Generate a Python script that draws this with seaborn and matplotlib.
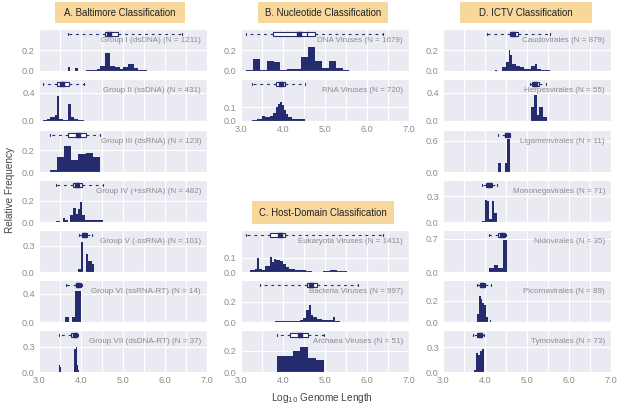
import matplotlib
matplotlib.use('Agg')
import matplotlib.pyplot as plt
import matplotlib.patches as mpatches
import seaborn as sns

#########
# Histogram data (bin edges, relative frequency) and box stats
# box = [whisker low, q1, median, q3, whisker high, mean]
#########

# A. Baltimore
dsdna_edges = [3.68, 3.74, 3.86, 3.93, 4.12, 4.37, 4.45, 4.56, 4.69, 4.81, 4.93, 5.01, 5.13, 5.25, 5.36, 5.56, 5.80, 6.10, 6.40]
dsdna_freq = [0.04, 0.0, 0.03, 0.0, 0.013, 0.02, 0.05, 0.17, 0.05, 0.04, 0.02, 0.04, 0.065, 0.03, 0.01, 0.004, 0.002, 0.002]
dsdna_box = [3.68, 4.56, 4.67, 4.89, 6.40, 4.67]

ssdna_edges = [3.10, 3.18, 3.25, 3.37, 3.42, 3.48, 3.58, 3.68, 3.76, 3.83, 3.94, 4.06]
ssdna_freq = [0.01, 0.033, 0.057, 0.08, 0.35, 0.03, 0.02, 0.24, 0.06, 0.035, 0.015]
ssdna_box = [3.10, 3.44, 3.55, 3.72, 4.06, 3.55]

dsrna_edges = [3.26, 3.44, 3.60, 3.75, 3.94, 4.12, 4.28, 4.45]
dsrna_freq = [0.015, 0.14, 0.24, 0.115, 0.17, 0.175, 0.14]
dsrna_box = [3.25, 3.68, 3.92, 4.13, 4.45, 3.92]

pssrna_edges = [3.40, 3.50, 3.56, 3.62, 3.68, 3.74, 3.80, 3.88, 3.92, 3.98, 4.02, 4.10, 4.21, 4.37, 4.53]
pssrna_freq = [0.01, 0.0, 0.04, 0.015, 0.0, 0.065, 0.13, 0.08, 0.12, 0.195, 0.065, 0.02, 0.015, 0.018]
pssrna_box = [3.40, 3.82, 3.91, 4.02, 4.53, 3.91]

nssrna_edges = [3.94, 4.00, 4.05, 4.11, 4.17, 4.25, 4.32]
nssrna_freq = [0.03, 0.34, 0.0, 0.21, 0.13, 0.09]
nssrna_box = [3.95, 4.02, 4.08, 4.14, 4.27, 4.08]

ssrnart_edges = [3.63, 3.71, 3.79, 3.86, 4.01]
ssrnart_freq = [0.071, 0.0, 0.071, 0.43]
ssrnart_box = [3.64, 3.88, 3.94, 4.00, 4.02, 3.94]

dsdnart_edges = [3.47, 3.50, 3.53, 3.84, 3.87, 3.90, 3.93, 3.95]
dsdnart_freq = [0.081, 0.054, 0.0, 0.27, 0.30, 0.081, 0.027]
dsdnart_box = [3.47, 3.76, 3.85, 3.91, 3.94, 3.85]

# B. Nucleotide
dna_edges = [3.12, 3.28, 3.45, 3.61, 3.78, 3.94, 4.10, 4.27, 4.43, 4.60, 4.76, 4.92, 5.09, 5.25, 5.42, 5.58, 5.74, 5.91, 6.07, 6.23, 6.40]
dna_freq = [0.006, 0.11, 0.013, 0.10, 0.085, 0.006, 0.016, 0.02, 0.13, 0.225, 0.095, 0.026, 0.097, 0.029, 0.013, 0.003, 0.002, 0.002, 0.001, 0.002]
dna_box = [3.12, 3.75, 4.58, 4.76, 6.39, 4.37]

rna_edges = [3.25, 3.37, 3.49, 3.57, 3.69, 3.77, 3.83, 3.88, 3.93, 3.98, 4.02, 4.07, 4.13, 4.21, 4.33, 4.52]
rna_freq = [0.005, 0.012, 0.035, 0.03, 0.037, 0.06, 0.1, 0.125, 0.14, 0.118, 0.08, 0.055, 0.03, 0.015, 0.013]
rna_box = [3.25, 3.83, 3.95, 4.05, 4.52, 3.95]

# C. Host domain
euk_edges = [3.12, 3.21, 3.33, 3.37, 3.42, 3.49, 3.57, 3.69, 3.73, 3.79, 3.83, 3.93, 4.01, 4.07, 4.15, 4.29, 4.40, 4.55, 4.69, 4.96, 5.12, 5.28, 5.52, 5.90, 6.39]
euk_freq = [0.002, 0.012, 0.023, 0.098, 0.02, 0.016, 0.04, 0.105, 0.07, 0.093, 0.086, 0.075, 0.053, 0.035, 0.021, 0.016, 0.012, 0.007, 0.003, 0.005, 0.016, 0.005, 0.002, 0.002]
euk_box = [3.12, 3.69, 3.93, 4.05, 6.39, 3.93]

bac_edges = [3.45, 3.80, 4.10, 4.25, 4.40, 4.48, 4.55, 4.61, 4.66, 4.72, 4.80, 4.92, 5.12, 5.18, 5.24, 5.36, 5.79]
bac_freq = [0.004, 0.007, 0.01, 0.012, 0.02, 0.035, 0.12, 0.17, 0.065, 0.045, 0.03, 0.015, 0.02, 0.045, 0.01, 0.003]
bac_box = [3.45, 4.56, 4.67, 4.80, 5.79, 4.67]

arc_edges = [3.85, 4.04, 4.23, 4.41, 4.60, 4.79, 4.98]
arc_freq = [0.157, 0.157, 0.196, 0.235, 0.137, 0.118]
arc_box = [3.85, 4.17, 4.40, 4.60, 4.98, 4.40]

# D. ICTV
caudo_edges = [4.05, 4.23, 4.29, 4.41, 4.51, 4.56, 4.60, 4.65, 4.73, 4.83, 4.94, 5.10, 5.18, 5.24, 5.34, 5.54]
caudo_freq = [0.003, 0.013, 0.004, 0.04, 0.087, 0.2, 0.15, 0.07, 0.05, 0.04, 0.023, 0.045, 0.065, 0.016, 0.006]
caudo_box = [4.05, 4.59, 4.66, 4.79, 5.54, 4.66]

herpes_edges = [5.09, 5.17, 5.23, 5.29, 5.39, 5.47]
herpes_freq = [0.2, 0.36, 0.09, 0.19, 0.055]
herpes_box = [5.08, 5.13, 5.20, 5.29, 5.46, 5.20]

ligamen_edges = [4.31, 4.37, 4.47, 4.52, 4.59]
ligamen_freq = [0.18, 0.0, 0.18, 0.64]
ligamen_box = [4.31, 4.47, 4.53, 4.59, 4.59, 4.53]

monone_edges = [3.94, 4.00, 4.05, 4.10, 4.16, 4.21, 4.28]
monone_freq = [0.015, 0.26, 0.25, 0.03, 0.245, 0.1]
monone_box = [3.94, 4.03, 4.09, 4.17, 4.29, 4.09]

nido_edges = [4.09, 4.21, 4.32, 4.42, 4.53]
nido_freq = [0.086, 0.143, 0.086, 0.686]
nido_box = [4.09, 4.32, 4.40, 4.48, 4.51, 4.40]

picorna_edges = [3.82, 3.86, 3.90, 3.94, 3.98, 4.03, 4.07, 4.11, 4.15]
picorna_freq = [0.075, 0.245, 0.22, 0.18, 0.165, 0.05, 0.0, 0.022]
picorna_box = [3.82, 3.87, 3.93, 3.99, 4.15, 3.93]

tymo_edges = [3.73, 3.78, 3.84, 3.89, 3.93, 3.97]
tymo_freq = [0.03, 0.23, 0.21, 0.25, 0.28]
tymo_box = [3.71, 3.81, 3.88, 3.94, 3.97, 3.88]

NAVY = '#252c6e'
GREY = '#8c8c8c'
TITLE_BG = '#f7d79b'

sns.set_style('darkgrid')
plt.rcParams['font.family'] = ['Liberation Sans', 'DejaVu Sans']

W, H = 617, 405
fig = plt.figure(figsize=(W / 100, H / 100), dpi=100)

col_x = {'A': 39, 'B': 241, 'D': 443}
row_top = [29, 79, 130, 180, 230, 280, 330]

# (column, row, label, edges, freq, box, ylim top, y tick, show x labels)
panels = [
    ('A', 0, 'Group I (dsDNA) (N = 1211)', dsdna_edges, dsdna_freq, dsdna_box, 0.40, 0.2, False),
    ('A', 1, 'Group II (ssDNA) (N = 431)', ssdna_edges, ssdna_freq, ssdna_box, 0.59, 0.4, False),
    ('A', 2, 'Group III (dsRNA) (N = 123)', dsrna_edges, dsrna_freq, dsrna_box, 0.39, 0.2, False),
    ('A', 3, 'Group IV (+ssRNA) (N = 482)', pssrna_edges, pssrna_freq, pssrna_box, 0.40, 0.2, False),
    ('A', 4, 'Group V (-ssRNA) (N = 101)', nssrna_edges, nssrna_freq, nssrna_box, 0.48, 0.3, False),
    ('A', 5, 'Group VI (ssRNA-RT) (N = 14)', ssrnart_edges, ssrnart_freq, ssrnart_box, 0.59, 0.4, False),
    ('A', 6, 'Group VII (dsDNA-RT) (N = 37)', dsdnart_edges, dsdnart_freq, dsdnart_box, 0.50, 0.3, True),
    ('B', 0, 'DNA Viruses (N = 1679)', dna_edges, dna_freq, dna_box, 0.40, 0.2, False),
    ('B', 1, 'RNA Viruses (N = 720)', rna_edges, rna_freq, rna_box, 0.31, 0.1, True),
    ('B', 4, 'Eukaryota Viruses (N = 1411)', euk_edges, euk_freq, euk_box, 0.29, 0.1, False),
    ('B', 5, 'Bacteria Viruses (N = 997)', bac_edges, bac_freq, bac_box, 0.41, 0.2, False),
    ('B', 6, 'Archaea Viruses (N = 51)', arc_edges, arc_freq, arc_box, 0.40, 0.2, True),
    ('D', 0, 'Caudovirales (N = 879)', caudo_edges, caudo_freq, caudo_box, 0.40, 0.2, False),
    ('D', 1, 'Herpesvirales (N = 55)', herpes_edges, herpes_freq, herpes_box, 0.59, 0.4, False),
    ('D', 2, 'Ligamenvirales (N = 11)', ligamen_edges, ligamen_freq, ligamen_box, 0.81, 0.6, False),
    ('D', 3, 'Mononegavirales (N = 71)', monone_edges, monone_freq, monone_box, 0.49, 0.3, False),
    ('D', 4, 'Nidovirales (N = 35)', nido_edges, nido_freq, nido_box, 0.89, 0.7, False),
    ('D', 5, 'Picornavirales (N = 89)', picorna_edges, picorna_freq, picorna_box, 0.40, 0.2, False),
    ('D', 6, 'Tymovirales (N = 73)', tymo_edges, tymo_freq, tymo_box, 0.51, 0.3, True),
]

xticks = [3.0, 3.5, 4.0, 4.5, 5.0, 5.5, 6.0, 6.5, 7.0]

for col, row, label, edges, freq, box, top, ytick, show_x in panels:
    ax = fig.add_axes([col_x[col] / W, 1 - (row_top[row] + 42) / H, 168 / W, 42 / H])
    centers = [(a + b) / 2 for a, b in zip(edges[:-1], edges[1:])]
    sns.histplot(x=centers, weights=freq, bins=edges, element='step', fill=True,
                 color=NAVY, alpha=1, linewidth=0, ax=ax)
    stats = [dict(whislo=box[0], q1=box[1], med=box[2], q3=box[3], whishi=box[4],
                  mean=box[5], fliers=[])]
    ax.bxp(stats, positions=[top * 0.88], widths=[top * 0.11], capwidths=[top * 0.06],
           orientation='horizontal', patch_artist=True, showmeans=True, manage_ticks=False,
           boxprops=dict(facecolor='white', edgecolor=NAVY, linewidth=0.8),
           whiskerprops=dict(color=NAVY, linewidth=0.8, linestyle=(0, (2.5, 3.5))),
           capprops=dict(color=NAVY, linewidth=0.8),
           medianprops=dict(color=NAVY, linewidth=0.9),
           meanprops=dict(marker='s', markerfacecolor=NAVY, markeredgecolor=NAVY, markersize=3))
    ax.set_xlim(3, 7)
    ax.set_ylim(0, top)
    ax.set_xticks(xticks)
    if show_x:
        ax.set_xticklabels([f'{t:.1f}' if t == int(t) else '' for t in xticks])
    else:
        ax.set_xticklabels([])
    ax.set_yticks([0.0, ytick])
    ax.set_yticklabels(['0.0', f'{ytick:.1f}'])
    ax.tick_params(length=0, pad=3, labelsize=6.6, colors=GREY)
    ax.set_xlabel('')
    ax.set_ylabel('')
    ax.text(0.965, 0.73, label, transform=ax.transAxes, ha='right', va='center',
            fontsize=5.8, color=GREY)

# column titles in shaded boxes
titles = [
    ('A. Baltimore Classification', 55, 185, 2, 23),
    ('B. Nucleotide Classification', 258, 388, 2, 23),
    ('C. Host-Domain Classification', 252, 394, 201, 224),
    ('D. ICTV Classification', 460, 592, 2, 23),
]
for text, x0, x1, y0, y1 in titles:
    fig.patches.append(mpatches.Rectangle((x0 / W, 1 - y1 / H), (x1 - x0) / W, (y1 - y0) / H,
                                          transform=fig.transFigure, facecolor=TITLE_BG,
                                          edgecolor='none', zorder=0))
    fig.text((x0 + x1) / 2 / W, 1 - (y0 + y1) / 2 / H, text, ha='center', va='center',
             fontsize=6.9, color='#222222')

fig.text(5 / W, 1 - 190 / H, 'Relative Frequency', rotation=90, ha='left', va='center',
         fontsize=7.2, color='#444444')
fig.text(322 / W, 1 - 398 / H, 'Log$_{10}$ Genome Length', ha='center', va='center',
         fontsize=7.2, color='#444444')

plt.savefig('out.png', dpi=100)
